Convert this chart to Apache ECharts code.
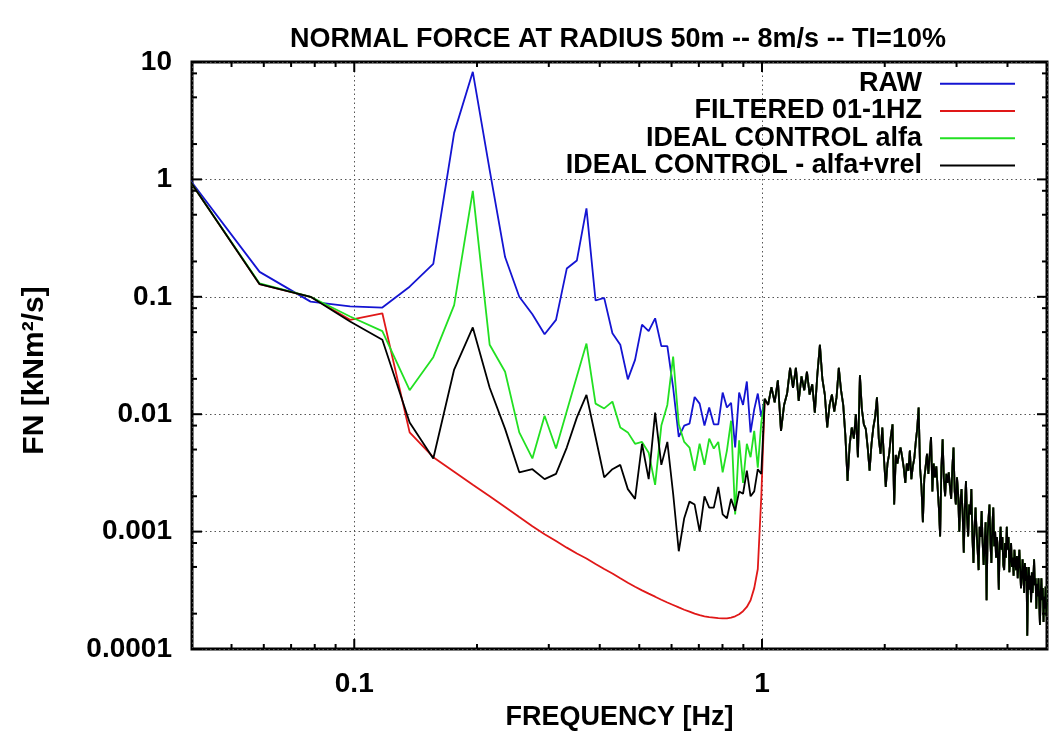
<!DOCTYPE html>
<html><head><meta charset="utf-8">
<script src="https://cdn.jsdelivr.net/npm/echarts@6/dist/echarts.min.js"></script>
<style>html,body{margin:0;padding:0;background:#fff}#c{width:1050px;height:736px}</style>
</head><body><div id="c"></div>
<script>
const TITLE = 'NORMAL FORCE AT RADIUS 50m -- 8m/s -- TI=10%';
const X_NAME = 'FREQUENCY [Hz]';
const Y_NAME = 'FN [kNm²/s]';
const SERIES_NAMES = ['RAW', 'FILTERED 01-1HZ', 'IDEAL CONTROL alfa', 'IDEAL CONTROL - alfa+vrel'];
const SERIES_COLORS = ['#1414d2', '#e01818', '#22e022', '#000000'];

// spectrum bins: frequency = bin index * bin width
const BIN_WIDTH = 0.01953125; // Hz
const FIRST_BIN = 2;

// bins 2..51 (below ~1 Hz), one array per series
const RAW_LOW = [
  1.05, 0.163, 0.091, 0.083, 0.081, 0.122, 0.191, 2.49, 8.25, 1.2,
  0.218, 0.1, 0.071, 0.048, 0.0636, 0.174, 0.204, 0.567, 0.093, 0.098,
  0.049, 0.039, 0.0198, 0.029, 0.058, 0.051, 0.0656, 0.038, 0.038, 0.0168,
  0.0064, 0.008, 0.0083, 0.014, 0.0123, 0.008, 0.0114, 0.0082, 0.0082, 0.0153,
  0.0114, 0.0125, 0.0052, 0.0153, 0.012, 0.019, 0.007, 0.011, 0.015, 0.0095
];
const FILTERED_LOW = [
  1.03, 0.128, 0.1, 0.0636, 0.0724, 0.007, 0.0043, 0.00324, 0.00251, 0.002,
  0.00162, 0.00133, 0.00111, 0.00095, 0.00083, 0.00073, 0.00065, 0.00059, 0.00053, 0.00048,
  0.00044, 0.0004, 0.000367, 0.000339, 0.000316, 0.000296, 0.000279, 0.000263, 0.000249, 0.000237,
  0.000226, 0.000216, 0.000208, 0.0002, 0.000194, 0.00019, 0.000187, 0.000185, 0.000183, 0.000182,
  0.000182, 0.000185, 0.00019, 0.000198, 0.00021, 0.000228, 0.00026, 0.00033, 0.00048, 0.002
];
const ALFA_LOW = [
  1.03, 0.13, 0.1, 0.068, 0.051, 0.016, 0.0306, 0.085, 0.798, 0.039,
  0.023, 0.007, 0.0042, 0.0097, 0.0051, 0.0106, 0.021, 0.04, 0.0123, 0.0112,
  0.0128, 0.0077, 0.007, 0.0056, 0.0058, 0.0047, 0.0025, 0.008, 0.012, 0.031,
  0.0082, 0.0058, 0.0052, 0.0033, 0.0056, 0.0037, 0.0062, 0.0051, 0.0058, 0.0032,
  0.0049, 0.0088, 0.0014, 0.006, 0.0026, 0.0056, 0.0043, 0.0072, 0.0035, 0.0085
];
const ALFA_VREL_LOW = [
  1.03, 0.128, 0.1, 0.0616, 0.043, 0.0085, 0.0042, 0.024, 0.0548, 0.0168,
  0.0075, 0.0032, 0.0034, 0.0028, 0.0031, 0.0052, 0.0094, 0.0146, 0.0064, 0.0029,
  0.0034, 0.0037, 0.0023, 0.0019, 0.0056, 0.0028, 0.0103, 0.0037, 0.0058, 0.0021,
  0.00068, 0.0013, 0.0018, 0.0017, 0.001, 0.002, 0.0016, 0.0016, 0.0024, 0.0014,
  0.0013, 0.0019, 0.0015, 0.0022, 0.0021, 0.0033, 0.002, 0.0022, 0.0034, 0.0031
];
// bins 52..256 (above ~1 Hz): the four curves coincide here
const COMMON_HIGH = [
  0.0135, 0.012, 0.017, 0.0126, 0.0194, 0.0072, 0.012, 0.015, 0.0248, 0.0168,
  0.0248, 0.013, 0.021, 0.016, 0.023, 0.0147, 0.018, 0.0103, 0.022, 0.039,
  0.02, 0.0147, 0.0077, 0.012, 0.0147, 0.0105, 0.0139, 0.0248, 0.016, 0.012,
  0.0065, 0.0027, 0.0055, 0.0077, 0.0062, 0.01, 0.0043, 0.0215, 0.011, 0.0082,
  0.0075, 0.0052, 0.0033, 0.0055, 0.0077, 0.0095, 0.0139, 0.0062, 0.0046, 0.0077,
  0.0041, 0.0024, 0.0038, 0.0046, 0.0065, 0.0082, 0.0017, 0.0045, 0.0038, 0.0046,
  0.0052, 0.0043, 0.0035, 0.0026, 0.0038, 0.0033, 0.0049, 0.0028, 0.0036, 0.0042,
  0.0058, 0.0075, 0.0114, 0.0035, 0.0024, 0.0012, 0.0028, 0.0036, 0.0046, 0.0031,
  0.0045, 0.0064, 0.0022, 0.0038, 0.0029, 0.0036, 0.0024, 0.0016, 0.00091, 0.0035,
  0.0061, 0.0028, 0.002, 0.0031, 0.0026, 0.0032, 0.0024, 0.0019, 0.0035, 0.0052,
  0.0022, 0.0017, 0.0029, 0.0021, 0.001, 0.0018, 0.0023, 0.0014, 0.00066, 0.0016,
  0.0027, 0.0013, 0.00091, 0.0017, 0.0014, 0.0023, 0.0009, 0.00054, 0.0011, 0.0016,
  0.001, 0.0007, 0.00047, 0.0011, 0.0009, 0.0015, 0.0008, 0.00052, 0.0005, 0.0012,
  0.00026, 0.0009, 0.0013, 0.0017, 0.0008, 0.00054, 0.0011, 0.0016, 0.00075, 0.001,
  0.0006, 0.0009, 0.00061, 0.00032, 0.0008, 0.0011, 0.0007, 0.0009, 0.00052, 0.00047,
  0.0008, 0.0006, 0.0011, 0.0007, 0.0009, 0.00045, 0.00061, 0.0008, 0.0005, 0.0006,
  0.00042, 0.0007, 0.00055, 0.00047, 0.00062, 0.0004, 0.00055, 0.0007, 0.00048, 0.00033,
  0.0004, 0.00058, 0.00045, 0.0003, 0.00054, 0.00038, 0.0005, 0.00013, 0.00035, 0.0005,
  0.00032, 0.00042, 0.00025, 0.00045, 0.0003, 0.0004, 0.00058, 0.00035, 0.0004, 0.00022,
  0.00036, 0.00028, 0.0004, 0.00025, 0.00016, 0.0003, 0.0004, 0.00026, 0.00033, 0.00017,
  0.00028, 0.00022, 0.00034, 0.00019, 0.00025
];

const X_MIN = 0.04, X_MAX = 5;
const Y_MIN = 0.0001, Y_MAX = 10;
const X_MAJOR = [0.1, 1];
const X_LABELS = ['0.1', '1'];
const X_MINOR = [0.05, 0.06, 0.07, 0.08, 0.09, 0.2, 0.3, 0.4, 0.5, 0.6, 0.7, 0.8, 0.9, 2, 3, 4];
const Y_MAJOR = [0.0001, 0.001, 0.01, 0.1, 1, 10];
const Y_LABELS = ['0.0001', '0.001', '0.01', '0.1', '1', '10'];
const Y_MINOR = [0.0002, 0.0005, 0.0008, 0.002, 0.005, 0.008, 0.02, 0.05, 0.08, 0.2, 0.5, 0.8, 2, 5, 8];

const LOWS = [RAW_LOW, FILTERED_LOW, ALFA_LOW, ALFA_VREL_LOW];

function toPoints(low) {
  return low.concat(COMMON_HIGH).map((v, i) => [(FIRST_BIN + i) * BIN_WIDTH, v]);
}
function lookupLabel(v, vals, labels) {
  for (let i = 0; i < vals.length; i++) {
    if (Math.abs(Math.log10(v) - Math.log10(vals[i])) < 1e-6) return labels[i];
  }
  return '';
}
const FONT = '"Liberation Sans", Arial, Helvetica, sans-serif';

function tickSeries(values, isX, len) {
  return {
    type: 'custom', silent: true, z: 10, clip: false,
    data: values.map(v => isX ? [v, Y_MIN] : [X_MIN, v]),
    encode: { x: 0, y: 1 },
    renderItem(params, api) {
      const cs = params.coordSys;
      const p = api.coord([api.value(0), api.value(1)]);
      const style = { stroke: '#000', lineWidth: 2 };
      if (isX) {
        const b = cs.y + cs.height, t = cs.y;
        return { type: 'group', children: [
          { type: 'line', shape: { x1: p[0], y1: b, x2: p[0], y2: b - len }, style },
          { type: 'line', shape: { x1: p[0], y1: t, x2: p[0], y2: t + len }, style }
        ]};
      }
      const l = cs.x, r = cs.x + cs.width;
      return { type: 'group', children: [
        { type: 'line', shape: { x1: l, y1: p[1], x2: l + len, y2: p[1] }, style },
        { type: 'line', shape: { x1: r, y1: p[1], x2: r - len, y2: p[1] }, style }
      ]};
    }
  };
}

const chart = echarts.init(document.getElementById('c'), null, { renderer: 'canvas' });
const lineSeries = SERIES_NAMES.map((name, i) => ({
  name, type: 'line', data: toPoints(LOWS[i]), symbol: 'none', showSymbol: false,
  lineStyle: { color: SERIES_COLORS[i], width: 1.8 }, itemStyle: { color: SERIES_COLORS[i] },
  z: 3 + i, clip: true, animation: false
}));

chart.setOption({
  animation: false,
  backgroundColor: '#fff',
  title: {
    text: TITLE, left: 618, textAlign: 'center', top: 26, padding: 0,
    textStyle: { fontFamily: FONT, fontSize: 27, fontWeight: 'bold', color: '#000' }
  },
  legend: {
    data: SERIES_NAMES, orient: 'vertical', align: 'right', right: 35, top: 70, padding: 0,
    itemGap: 0, itemWidth: 75, itemHeight: 2, icon: 'rect', selectedMode: false,
    textStyle: { fontFamily: FONT, fontSize: 27, fontWeight: 'bold', color: '#000', lineHeight: 27.3, padding: [0, 13, 0, 0] }
  },
  grid: {
    left: 192, right: 3, top: 62, bottom: 82, show: true,
    borderColor: '#000', borderWidth: 3, backgroundColor: 'transparent'
  },
  xAxis: {
    type: 'log', logBase: 10, min: X_MIN, max: X_MAX,
    name: X_NAME, nameLocation: 'middle', nameGap: 55,
    nameTextStyle: { fontFamily: FONT, fontSize: 27, fontWeight: 'bold', color: '#000' },
    axisLine: { show: false }, axisTick: { show: false },
    axisLabel: {
      margin: 21, fontFamily: FONT, fontSize: 28, fontWeight: 'bold', color: '#000',
      formatter: v => lookupLabel(v, X_MAJOR, X_LABELS)
    },
    splitLine: { show: true, lineStyle: { color: '#555', width: 1, type: [1.5, 3] } }
  },
  yAxis: {
    type: 'log', logBase: 10, min: Y_MIN, max: Y_MAX,
    name: Y_NAME, nameLocation: 'middle', nameGap: 142, nameRotate: 90,
    nameTextStyle: { fontFamily: FONT, fontSize: 30, fontWeight: 'bold', color: '#000', padding: [0, 30, 0, 0] },
    axisLine: { show: false }, axisTick: { show: false },
    axisLabel: {
      margin: 20, fontFamily: FONT, fontSize: 28, fontWeight: 'bold', color: '#000',
      formatter: v => lookupLabel(v, Y_MAJOR, Y_LABELS)
    },
    splitLine: { show: true, lineStyle: { color: '#555', width: 1, type: [1.5, 3] } }
  },
  series: lineSeries.concat([
    tickSeries(X_MAJOR, true, 10), tickSeries(X_MINOR, true, 5),
    tickSeries(Y_MAJOR, false, 10), tickSeries(Y_MINOR, false, 5)
  ])
});
</script></body></html>
